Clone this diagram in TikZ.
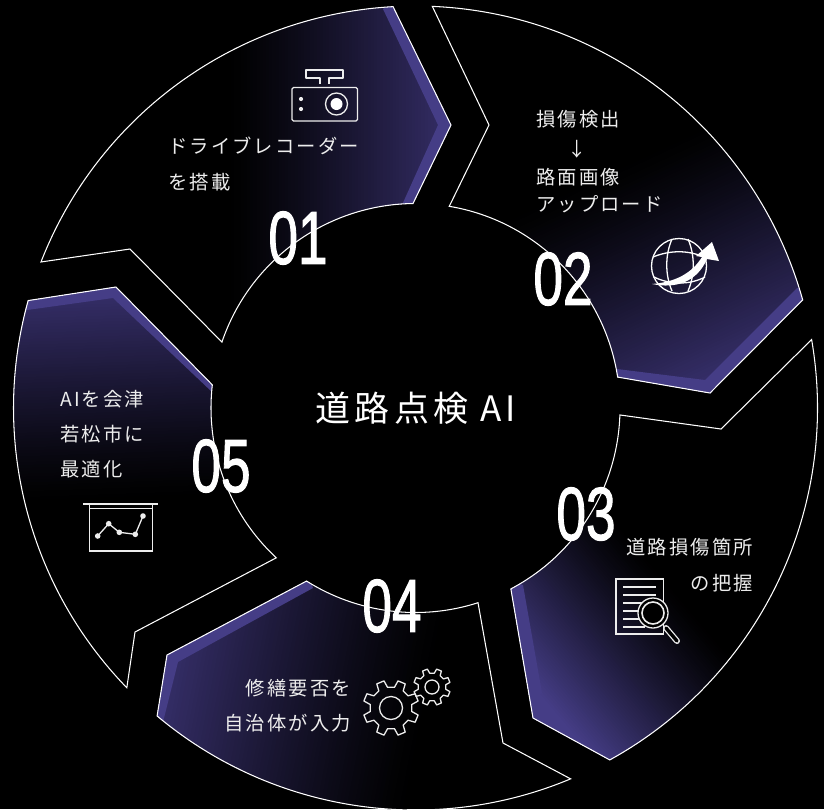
\documentclass[tikz,border=0pt]{standalone}
\usepackage{fontspec}
\setmainfont{Noto Sans CJK JP}[LetterSpace=11]
\newfontfamily\numfont{Liberation Sans}[FakeBold=1.6]
\newfontfamily\titlefont{Noto Sans CJK JP}[LetterSpace=12]
\definecolor{bandc}{HTML}{453D86}
\definecolor{txt}{HTML}{EDEDED}
\definecolor{endA}{HTML}{352E68}
\tikzset{
  segline/.style={draw=white,line width=1.05pt,line join=miter},
  label/.style={text=txt,inner sep=0pt,font=\fontsize{19.3}{21}\selectfont},
  numlabel/.style={text=white,inner sep=0pt},
  iconline/.style={draw=txt,line width=1.3pt},
}
\def\segA{([shift={(201.3:402)}]c) arc[start angle=201.3,end angle=266.8,radius=402] -- (451,125) -- ([shift={(269.3:204.5)}]c) arc[start angle=269.3,end angle=198.8,radius=204.5] -- (130,249) -- cycle}
\def\segB{([shift={(272.4:402)}]c) arc[start angle=272.4,end angle=344.4,radius=402] -- (710,393) -- ([shift={(351.3:204.5)}]c) arc[start angle=351.3,end angle=279.5,radius=204.5] -- (489,125) -- cycle}
\def\segC{([shift={(-9.8:402)}]c) arc[start angle=-9.8,end angle=61.1,radius=402] -- (533,718) -- ([shift={(62.2:204.5)}]c) arc[start angle=62.2,end angle=1.95,radius=204.5] -- (721,429) -- cycle}
\def\segD{([shift={(67.3:402)}]c) arc[start angle=67.3,end angle=130,radius=402] -- (167,655) -- ([shift={(122.2:204.5)}]c) arc[start angle=122.2,end angle=72.2,radius=204.5] -- (503,743) -- cycle}
\def\segE{([shift={(135.9:402)}]c) arc[start angle=135.9,end angle=195.5,radius=402] -- (116,287) -- ([shift={(186.5:204.5)}]c) arc[start angle=186.5,end angle=132.9,radius=204.5] -- (135,632) -- cycle}
% #1 path, #2 x0, #3 y0, #4 angle, #5 length, #6 end colour, #7 band polygon
\newcommand\gradseg[7]{%
  \begin{scope}
    \clip #1;
    \foreach \i in {0,...,70}{%
      \pgfmathsetmacro\pc{100*pow(\i/70,1.2)}%
      \pgfmathsetmacro\dd{\i/70*#5}%
      \fill[shift={(#2,#3)},rotate=#4,#6!\pc!black] (\dd,-900) rectangle (1800,900);
    }
    \fill[bandc] #7;
  \end{scope}
  \path[segline] #1;
}
\newcommand\gearshape[6]{% cx cy Ro Ri hw1 hw2
  \draw[iconline,line join=round,shift={(#1,#2)}] (22.5-#5:#4)
    \foreach \a in {22.5,67.5,...,337.5}{ -- (\a-#5:#4) -- (\a-#6:#3) -- (\a+#6:#3) -- (\a+#5:#4) } -- cycle;
}
\newcommand\numtext[1]{\scalebox{0.71}[1]{\numfont\fontsize{75}{75}\selectfont #1}}
\begin{document}
\begin{tikzpicture}[x=1pt,y=1pt,yscale=-1]
\fill[black] (0,0) rectangle (824,809);
\useasboundingbox (0,0) rectangle (824,809);
\coordinate (c) at (415.5,408);
\gradseg{\segA}{228}{120}{0}{222}{endA}{(383,9) -- (393,0) -- (460,125) -- (413,215) -- (402,205) -- (438,125) -- cycle}
\gradseg{\segB}{608}{171}{65}{230}{endA}{(797,288) -- (815,290) -- (710,405) -- (610,385) -- (617,369) -- (705,380) -- cycle}
\gradseg{\segC}{675}{590}{139.8}{170}{bandc}{(523,585) -- (505,580) -- (520,722) -- (542,693) -- cycle}
\gradseg{\segD}{430}{690}{191}{260}{endA}{(163,722) -- (140,720) -- (155,645) -- (306,570) -- (313,588) -- (178,662) -- cycle}
\gradseg{\segE}{115}{500}{268}{205}{endA}{(20,311) -- (20,290) -- (118,278) -- (222,385) -- (212,392) -- (113,298) -- cycle}

% centre title
\node[text=white,inner sep=0pt,font=\titlefont\fontsize{35}{37}\selectfont] (title) at (416,408) {道路点検 AI};

% numbers
\node[numlabel] (n1) at (298,238) {\numtext{01}};
\node[numlabel] (n2) at (563,279) {\numtext{02}};
\node[numlabel] (n3) at (586,514) {\numtext{03}};
\node[numlabel] (n4) at (392,606) {\numtext{04}};
\node[numlabel] (n5) at (221,466) {\numtext{05}};

% texts
\node[label,anchor=west] (t1a) at (168,146) {ドライブレコーダー};
\node[label,anchor=west] (t1b) at (168,182) {を搭載};
\node[label,anchor=west] (t2a) at (536,119) {損傷検出};
\node[label] (t2b) at (577,149) {↓};
\node[label,anchor=west] (t2c) at (536,177) {路面画像};
\node[label,anchor=west] (t2d) at (536,204) {アップロード};
\node[label,anchor=east] (t3a) at (753,547) {道路損傷箇所};
\node[label,anchor=east] (t3b) at (753,583) {の把握};
\node[label,anchor=east] (t4a) at (351,688) {修繕要否を};
\node[label,anchor=east] (t4b) at (351,723) {自治体が入力};
\node[label,anchor=west] (t5a) at (60,399) {AIを会津};
\node[label,anchor=west] (t5b) at (60,434) {若松市に};
\node[label,anchor=west] (t5c) at (60,469) {最適化};

% camera icon
\draw[iconline,line join=round] (320,84) -- (320,78) -- (306,78) -- (306,70) -- (343,70) -- (343,78) -- (329,78) -- (329,84);
\draw[iconline,rounded corners=1.5pt] (292,87.5) rectangle (357.5,121);
\draw[iconline] (336.5,104) circle (11);
\fill[white] (336.5,104) circle (6);
\fill[txt] (301,99) circle (2.1) (301,109) circle (2.1);

% globe icon
\draw[iconline,draw=white] (679,266) circle (27.5);
\draw[iconline,draw=white] (653,257) .. controls (670,250) and (688,250) .. (704,257);
\draw[iconline,draw=white] (654,277) .. controls (670,285) and (690,285) .. (705,277);
\draw[iconline,draw=white] (672,239) .. controls (665,255) and (665,275) .. (672,291);
\draw[iconline,draw=white] (688,239) .. controls (695,255) and (695,275) .. (688,291);
\fill[white] (652,284) .. controls (676,289) and (697,282) .. (707,259) -- (719,261) -- (712,242) -- (696,256) -- (702,257) .. controls (692,273) and (676,282) .. cycle;

% document and magnifier icon
\draw[iconline,line width=1.6pt] (616,579) rectangle (663.5,634);
\foreach \y in {587,595}{\draw[iconline] (623,\y) -- (656,\y);}
\foreach \y in {603,611,619,627}{\draw[iconline] (623,\y) -- (645,\y);}
\draw[txt,line width=6pt,line cap=round] (666,628) -- (677,641);
\draw[black,line width=3.4pt,line cap=round] (666,628) -- (677,641);
\draw[iconline,fill=black] (653,613) circle (15);
\draw[iconline,line width=1.6pt] (653,613) circle (11);

% gears
\gearshape{391}{708}{28}{21}{13}{8}
\draw[iconline] (391,708) circle (11.5);
\gearshape{432}{687}{18.5}{14}{13}{8}
\draw[iconline] (432,687) circle (7);

% chart icon
\draw[iconline,line width=1.6pt] (83,504) -- (158,504);
\draw[iconline] (89.5,504) -- (89.5,551) -- (152.5,551) -- (152.5,504);
\draw[iconline,line width=.7pt] (89.5,508) -- (152.5,508);
\draw[iconline] (97.7,536) -- (108.7,523.7) -- (119.3,532.3) -- (135.3,534.3) -- (143,516);
\fill[txt] (97.7,536) circle (2.8) (108.7,523.7) circle (2.8) (119.3,532.3) circle (2.8) (135.3,534.3) circle (2.8) (143,516) circle (2.8);
\end{tikzpicture}
\end{document}
